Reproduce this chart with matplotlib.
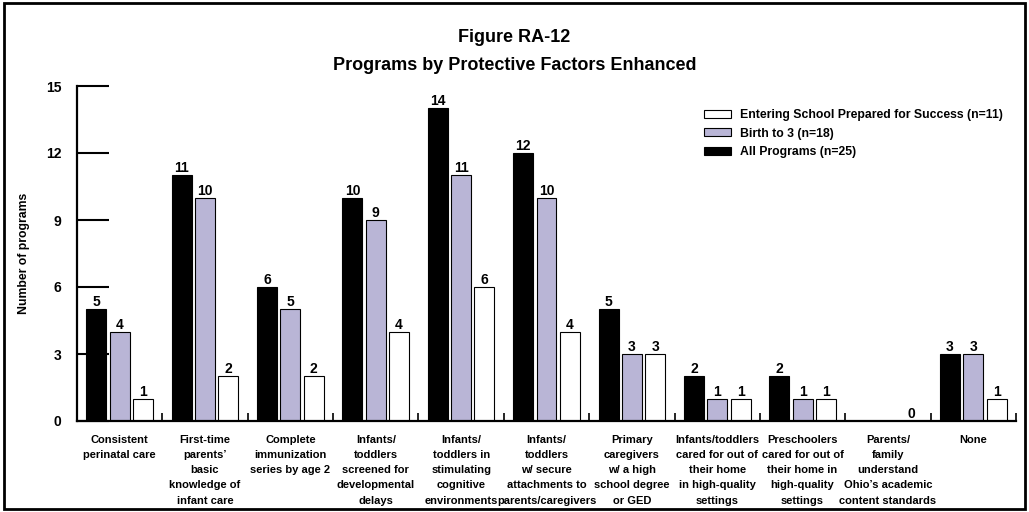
import numpy as np
import matplotlib
matplotlib.use('Agg')
import matplotlib.pyplot as plt
from matplotlib.patches import Rectangle

plt.rcParams['font.family'] = ['Liberation Sans', 'DejaVu Sans']
plt.rcParams['font.weight'] = 'bold'

# data
categories = ['Consistent\nperinatal care',
              'First-time\nparents\u2019\nbasic\nknowledge of\ninfant care',
              'Complete\nimmunization\nseries by age 2',
              'Infants/\ntoddlers\nscreened for\ndevelopmental\ndelays',
              'Infants/\ntoddlers in\nstimulating\ncognitive\nenvironments',
              'Infants/\ntoddlers\nw/ secure\nattachments to\nparents/caregivers',
              'Primary\ncaregivers\nw/ a high\nschool degree\nor GED',
              'Infants/toddlers\ncared for out of\ntheir home\nin high-quality\nsettings',
              'Preschoolers\ncared for out of\ntheir home in\nhigh-quality\nsettings',
              'Parents/\nfamily\nunderstand\nOhio\u2019s academic\ncontent standards',
              'None']
all_programs = [5, 11, 6, 10, 14, 12, 5, 2, 2, 0, 3]
birth_to_3 = [4, 10, 5, 9, 11, 10, 3, 1, 1, 0, 3]
entering_school = [1, 2, 2, 4, 6, 4, 3, 1, 1, 0, 1]
series_names = ['All Programs (n=25)', 'Birth to 3 (n=18)',
                'Entering School Prepared for Success (n=11)']
yticks = [0, 3, 6, 9, 12, 15]

fig = plt.figure(figsize=(10.29, 5.12), dpi=100)
ax = fig.add_axes([77 / 1029, 91 / 512, 939 / 1029, 335 / 512])

x = np.arange(len(categories))
w = 0.234
step = 0.273
colors = ['black', '#b9b5d6', 'white']
series = [all_programs, birth_to_3, entering_school]
for i, (vals, col, name) in enumerate(zip(series, colors, series_names)):
    b = ax.bar(x + (i - 1) * step, vals, w, color=col, edgecolor='black',
               linewidth=0.8, label=name, zorder=2)
    labels = [str(v) if (v > 0 or i == 2) else '' for v in vals]
    ax.bar_label(b, labels=labels, padding=0, fontsize=10, fontweight='bold')

ax.set_xlim(-0.5, len(categories) - 0.5)
ax.set_ylim(0, 15)
ax.set_axisbelow(True)
ax.set_yticks(yticks)
ax.tick_params(axis='y', direction='in', length=23, width=1.5, pad=11,
               labelsize=10)
ax.set_xticks(x)
ax.set_xticklabels(categories, fontsize=8, fontweight='bold', linespacing=1.65)
ax.tick_params(axis='x', which='major', length=0, pad=10)
ax.set_xticks(np.arange(len(categories) + 1) - 0.5, minor=True)
ax.tick_params(axis='x', which='minor', direction='in', length=6, width=1.2)

for s in ['top', 'right']:
    ax.spines[s].set_visible(False)
for s in ['left', 'bottom']:
    ax.spines[s].set_linewidth(1.6)

ax.set_ylabel('Number of programs', fontsize=8.8, fontweight='bold', labelpad=12)

h, l = ax.get_legend_handles_labels()
ax.legend(h[::-1], l[::-1], loc='upper right', bbox_to_anchor=(0.995, 0.957),
          frameon=False, fontsize=8.8, handlelength=2.2, handleheight=0.6,
          handletextpad=0.7, labelspacing=0.55, borderpad=0.2)

fig.text(0.5, 1 - 38 / 512, 'Figure RA-12', ha='center', va='center',
         fontsize=13, fontweight='bold')
fig.text(0.5, 1 - 66 / 512, 'Programs by Protective Factors Enhanced',
         ha='center', va='center', fontsize=13, fontweight='bold')

fig.patches.append(Rectangle((0.004, 0.006), 0.992, 0.988, transform=fig.transFigure,
                             fill=False, edgecolor='black', linewidth=2))

fig.savefig('out.png', dpi=100)
